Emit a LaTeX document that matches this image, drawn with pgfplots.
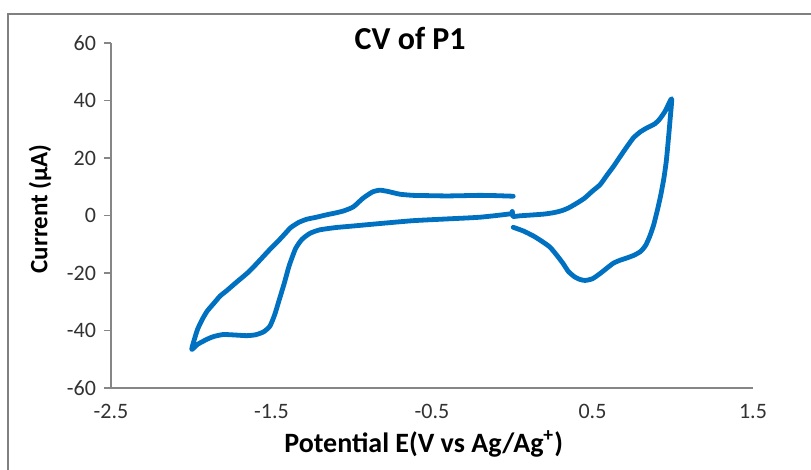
\documentclass[border=0pt]{standalone}
\usepackage{fontspec}
\setmainfont{Carlito}
\usepackage{pgfplots}
\pgfplotsset{compat=1.18}
\definecolor{cvblue}{RGB}{0,112,192}
\definecolor{axgray}{RGB}{134,134,134}
\definecolor{framegray}{RGB}{128,128,128}
\definecolor{ticktext}{RGB}{50,50,50}
\begin{document}
\begin{tikzpicture}
\useasboundingbox (-55.5pt,-41pt) rectangle (350pt,194pt);
\fill[white] (-55.5pt,-41pt) rectangle (350pt,194pt);
\draw[framegray, line width=1.1pt] (-51.5pt,-41pt) -- (-51.5pt,187pt) -- (350pt,187pt);
\begin{axis}[
  at={(0pt,0pt)}, anchor=south west,
  scale only axis, width=321pt, height=172.5pt,
  xmin=-2.5, xmax=1.5, ymin=-60, ymax=60,
  xtick={-2.5,-1.5,-0.5,0.5,1.5},
  ytick={-60,-40,-20,0,20,40,60},
  axis lines*=left,
  axis line style={axgray, line width=0.6pt},
  tick align=outside,
  major tick length=3.5pt,
  every tick/.style={axgray, line width=0.6pt},
  x tick style={draw=none},
  /pgf/number format/assume math mode=true,
  tick label style={font=\fontsize{11}{13}\selectfont, text=ticktext},
  xticklabel style={yshift=-1pt},
  yticklabel style={xshift=-0.5pt},
  title={CV of P1},
  title style={font=\fontsize{16}{19}\selectfont\bfseries, at={(axis description cs:0.466,0.977)}, anchor=center},
  xlabel={Potential E(V vs Ag/Ag\textsuperscript{+})},
  xlabel style={font=\fontsize{14}{17}\selectfont\bfseries, at={(axis description cs:0.487,-0.162)}, anchor=center},
  ylabel={Current (µA)},
  ylabel style={font=\fontsize{12.5}{15}\selectfont\bfseries, at={(axis description cs:-0.1106,0.519)}, anchor=center, rotate=0},
]
\addplot[cvblue, line width=2.4pt, line join=round, line cap=round, smooth, tension=0.35] coordinates {
(0.006,6.7) (-0.10,6.9) (-0.201,7.0) (-0.30,6.9) (-0.408,6.8) (-0.52,6.9) (-0.617,7.0) (-0.70,7.4) (-0.77,8.3) (-0.824,8.8) (-0.87,8.2) (-0.93,6.0) (-0.99,3.0) (-1.05,1.6) (-1.10,0.9) (-1.16,0.2) (-1.22,-0.6) (-1.28,-1.3) (-1.33,-2.4) (-1.38,-4.2) (-1.42,-6.6) (-1.46,-9.0) (-1.50,-11.2) (-1.55,-14.2) (-1.60,-17.2) (-1.65,-20.0) (-1.72,-23.3) (-1.78,-26.2) (-1.82,-28.0) (-1.86,-30.6) (-1.90,-33.2) (-1.93,-36.0) (-1.96,-39.5) (-1.98,-43.0) (-1.997,-46.6)
(-1.96,-44.8) (-1.90,-43.0) (-1.86,-42.1) (-1.80,-41.4) (-1.72,-41.6) (-1.655,-41.8) (-1.60,-41.5) (-1.55,-40.5) (-1.51,-38.5) (-1.48,-34.5) (-1.45,-29.0) (-1.42,-23.5) (-1.39,-17.5) (-1.35,-11.5) (-1.31,-8.3) (-1.26,-6.2) (-1.20,-5.0) (-1.10,-4.2) (-1.00,-3.7) (-0.824,-2.8) (-0.617,-1.8) (-0.408,-1.2) (-0.201,-0.6) (-0.01,0.6) (0.0,1.4) (0.005,-0.3)
(0.05,-0.1) (0.13,0.2) (0.20,0.5) (0.26,1.0) (0.31,1.7) (0.35,2.6) (0.40,4.2) (0.45,6.0) (0.50,8.5) (0.547,10.7) (0.59,14.0) (0.63,17.0) (0.67,20.3) (0.713,23.8) (0.755,27.0) (0.796,29.0) (0.84,30.5) (0.889,31.9) (0.92,33.6) (0.955,36.5) (0.993,40.6)
(0.983,33) (0.972,26) (0.960,19) (0.945,13) (0.925,7) (0.905,2) (0.88,-3.5) (0.855,-7.5) (0.83,-10.5) (0.80,-12.5) (0.76,-13.8) (0.713,-14.8) (0.67,-15.6) (0.63,-16.6) (0.59,-18.3) (0.547,-20.2) (0.50,-22.0) (0.453,-22.6) (0.42,-22.2) (0.39,-21.4) (0.35,-19.5) (0.318,-16.8) (0.28,-14.0) (0.235,-11.0) (0.18,-8.8) (0.131,-7.1) (0.07,-5.4) (0.006,-4.1)
};
\end{axis}
\end{tikzpicture}
\end{document}
